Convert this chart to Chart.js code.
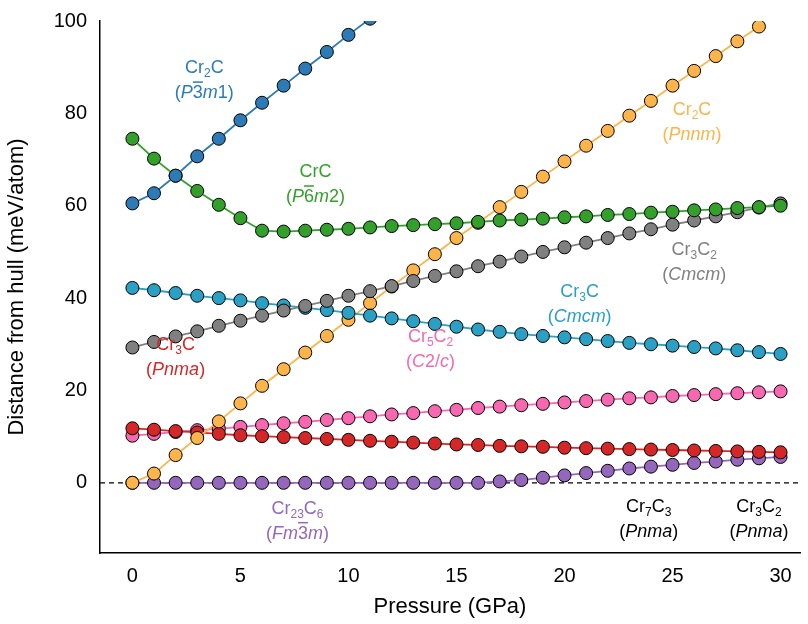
<!DOCTYPE html>
<html>
<head>
<meta charset="utf-8">
<title>Distance from hull</title>
<script src="https://cdn.jsdelivr.net/npm/chart.js@4/dist/chart.umd.min.js"></script>
<style>body{margin:0;background:#fff}</style>
</head>
<body>
<canvas id="myChart" width="808" height="624"></canvas>
<script>
var pressure = [0,1,2,3,4,5,6,7,8,9,10,11,12,13,14,15,16,17,18,19,20,21,22,23,24,25,26,27,28,29,30];
var cr2cP3m1 = [60.5,62.7,66.5,70.7,74.5,78.5,82.3,86,89.7,93.3,97,100.5];
var cr2cPnnm = [0,2,6,9.7,13.3,17.2,21,24.6,28.2,31.8,35.3,38.9,42.5,46,49.5,53,56.3,59.7,63,66.3,69.6,73,76.2,79.5,82.7,86,89.2,92.4,95.6,98.8];
var crc = [74.5,70.2,66.5,63.2,60.2,57.3,54.6,54.4,54.6,54.8,55,55.3,55.6,55.8,56,56.2,56.5,56.8,57,57.2,57.5,57.7,58,58.2,58.5,58.7,59,59.2,59.5,59.7,60];
var cr3c2Cmcm = [29.3,30.5,31.7,32.8,34,35.1,36.2,37.3,38.3,39.4,40.5,41.5,42.6,43.7,44.8,45.8,46.9,47.9,49,50,51,52,53,54,54.9,55.9,56.8,57.7,58.6,59.6,60.5];
var cr3cCmcm = [42.2,41.7,41.1,40.5,40,39.5,38.9,38.4,37.9,37.4,36.8,36.2,35.6,35,34.4,33.8,33.2,32.7,32.2,31.8,31.5,31.1,30.7,30.3,30,29.7,29.4,29.1,28.7,28.3,27.9];
var cr3cPnma = [11.8,11.5,11.2,10.9,10.6,10.3,10.1,9.9,9.7,9.5,9.3,9.1,8.9,8.7,8.5,8.3,8.2,8,7.9,7.8,7.6,7.5,7.4,7.3,7.2,7.1,7,6.9,6.8,6.7,6.6];
var cr5c2 = [10.2,10.6,11,11.4,11.7,12.1,12.5,12.9,13.2,13.6,14,14.4,14.8,15.1,15.5,15.8,16.2,16.5,16.8,17.1,17.4,17.7,18,18.3,18.5,18.8,19,19.2,19.4,19.6,19.8];
var cr23c6 = [0,0,0,0,0,0,0,0,0,0,0,0,0,0,0,0,0,0.3,0.6,1.1,1.6,2.1,2.6,3.1,3.5,3.9,4.3,4.6,5,5.3,5.6];

function pts(vals){ return vals.map(function(v,i){ return {x: pressure[i], y: v}; }); }
function ds(vals, color){
  return {data: pts(vals), borderColor: color, backgroundColor: color, borderWidth: 1.8,
    pointRadius: 6.5, pointBorderColor: '#000', pointBorderWidth: 1, pointHoverRadius: 6.5};
}

// label blocks: [x, y, color, lines]; each line is a list of [text, style]
var labels = [
  [3.33, 89.8, '#2c7bb6', [[['Cr',''],['2','sub'],['C','']], [['(',''],['P','i'],['3','o'],['m','i'],['1',''],[')','']]]],
  [8.47, 67.3, '#33a02c', [[['CrC','']], [['(',''],['P','i'],['6','o'],['m','i'],['2',''],[')','']]]],
  [25.9, 80.7, '#fdb44a', [[['Cr',''],['2','sub'],['C','']], [['(',''],['Pnnm','i'],[')','']]]],
  [26.0, 50.4, '#808080', [[['Cr',''],['3','sub'],['C',''],['2','sub']], [['(',''],['Cmcm','i'],[')','']]]],
  [20.7, 41.4, '#2aa0c4', [[['Cr',''],['3','sub'],['C','']], [['(',''],['Cmcm','i'],[')','']]]],
  [13.8, 31.6, '#f768b0', [[['Cr',''],['5','sub'],['C',''],['2','sub']], [['(',''],['C','i'],['2',''],['/',''],['c','i'],[')','']]]],
  [2.0, 29.9, '#d62728', [[['Cr',''],['3','sub'],['C','']], [['(',''],['Pnma','i'],[')','']]]],
  [7.64, -5.6, '#9467bd', [[['Cr',''],['23','sub'],['C',''],['6','sub']], [['(',''],['Fm','i'],['3','o'],['m','i'],[')','']]]],
  [23.9, -5.2, '#000', [[['Cr',''],['7','sub'],['C',''],['3','sub']], [['(',''],['Pnma','i'],[')','']]]],
  [29.0, -5.2, '#000', [[['Cr',''],['3','sub'],['C',''],['2','sub']], [['(',''],['Pnma','i'],[')','']]]]
];

var FF = '"Liberation Sans", Arial, sans-serif';
function fontFor(st){
  if (st === 'sub') return '12px ' + FF;
  if (st === 'i') return 'italic 18px ' + FF;
  return '18px ' + FF;
}

var extras = {
  id: 'extras',
  beforeDatasetsDraw: function(chart){
    var c = chart.ctx, a = chart.chartArea, y0 = chart.scales.y.getPixelForValue(0);
    c.save(); c.strokeStyle = '#000'; c.lineWidth = 1.2; c.setLineDash([5,4]);
    c.beginPath(); c.moveTo(a.left, y0); c.lineTo(a.right, y0); c.stroke(); c.restore();
  },
  afterDatasetsDraw: function(chart){
    var c = chart.ctx, sx = chart.scales.x, sy = chart.scales.y;
    c.save(); c.textBaseline = 'middle';
    labels.forEach(function(L){
      var cx = sx.getPixelForValue(L[0]), cy = sy.getPixelForValue(L[1]);
      c.fillStyle = L[2]; c.strokeStyle = L[2];
      L[3].forEach(function(line, li){
        var w = 0;
        line.forEach(function(s){ c.font = fontFor(s[1]); w += c.measureText(s[0]).width; });
        var x = cx - w/2, y = cy + li*25;
        line.forEach(function(s){
          c.font = fontFor(s[1]);
          var sw = c.measureText(s[0]).width;
          c.fillText(s[0], x, s[1] === 'sub' ? y + 6 : y);
          if (s[1] === 'o'){ c.lineWidth = 1.5; c.beginPath(); c.moveTo(x, y-11); c.lineTo(x+sw, y-11); c.stroke(); }
          x += sw;
        });
      });
    });
    c.restore();
  }
};

new Chart(document.getElementById('myChart'), {
  type: 'line',
  data: { datasets: [
    ds(cr2cP3m1, '#2c7bb6'), ds(crc, '#33a02c'), ds(cr3c2Cmcm, '#808080'), ds(cr3cCmcm, '#2aa0c4'),
    ds(cr2cPnnm, '#fdb44a'), ds(cr3cPnma, '#d62728'), ds(cr5c2, '#f768b0'), ds(cr23c6, '#9467bd')
  ]},
  options: {
    responsive: false, animation: false, clip: true,
    layout: { padding: { top: 21, right: 8 } },
    plugins: { legend: { display: false }, tooltip: { enabled: false } },
    scales: {
      x: { type: 'linear', min: -1.5, max: 30.9,
        afterFit: function(s){ s.height = 71; },
        afterBuildTicks: function(s){ s.ticks = pressure.map(function(v){ return {value: v}; }); },
        ticks: { color: '#000', font: { size: 20, family: FF }, padding: 4, autoSkip: false, maxRotation: 0,
          callback: function(v){ return v % 5 === 0 ? v : ''; } },
        grid: { display: false, drawOnChartArea: false, drawTicks: true, tickLength: 7, tickColor: '#000', tickWidth: 1.5 },
        border: { color: '#000', width: 1.5 },
        title: { display: true, text: 'Pressure (GPa)', color: '#000', font: { size: 22, family: FF }, padding: { top: 2 } }
      },
      y: { min: -15.2, max: 100,
        afterFit: function(s){ s.width = 100; },
        afterBuildTicks: function(s){ s.ticks = [-10,0,10,20,30,40,50,60,70,80,90,100].map(function(v){ return {value: v}; }); },
        ticks: { color: '#000', font: { size: 20, family: FF }, padding: 6,
          callback: function(v){ return (v >= 0 && v % 20 === 0) ? v : ''; } },
        grid: { display: false, drawOnChartArea: false, drawTicks: true, tickLength: 7, tickColor: '#000', tickWidth: 1.5 },
        border: { color: '#000', width: 1.5 },
        title: { display: true, text: 'Distance from hull (meV/atom)', color: '#000', font: { size: 22, family: FF }, padding: { bottom: 4 } }
      }
    }
  },
  plugins: [extras]
});
</script>
</body>
</html>
